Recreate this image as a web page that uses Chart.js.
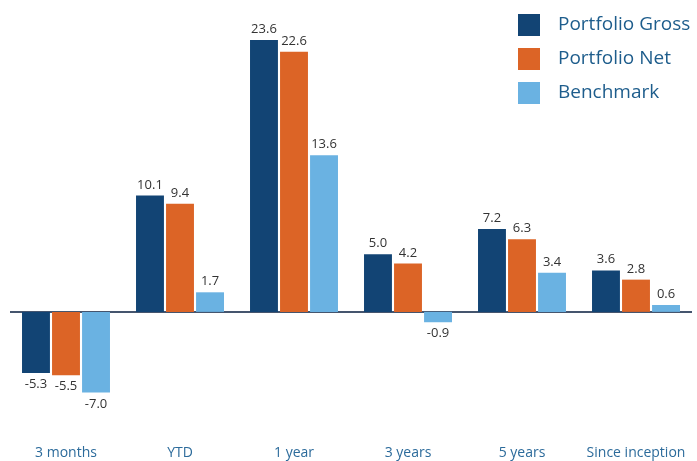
<!DOCTYPE html>
<html>
<head>
<meta charset="utf-8">
<script src="https://cdn.jsdelivr.net/npm/chart.js@4"></script>
<style>
  html, body { margin: 0; padding: 0; background: #fff; }
  #wrap { width: 697px; height: 461px; }
</style>
</head>
<body>
<div id="wrap"><canvas id="perfChart"></canvas></div>
<script>
// categories + series
const periods = ['3 months', 'YTD', '1 year', '3 years', '5 years', 'Since inception'];
const grossVals = [-5.3, 10.1, 23.6, 5.0, 7.2, 3.6];
const netVals = [-5.5, 9.4, 22.6, 4.2, 6.3, 2.8];
const benchVals = [-7.0, 1.7, 13.6, -0.9, 3.4, 0.6];
const seriesNames = ['Portfolio Gross', 'Portfolio Net', 'Benchmark'];

// zero line, value labels, category labels, legend in the top right
const extras = {
  id: 'extras',
  beforeDatasetsDraw(chart) {
    const c = chart.ctx, a = chart.chartArea, y0 = chart.scales.y.getPixelForValue(0);
    c.save();
    c.strokeStyle = '#45556e';
    c.lineWidth = 2;
    c.beginPath();
    c.moveTo(a.left + 1, y0);
    c.lineTo(a.right - 1, y0);
    c.stroke();
    c.restore();
  },
  afterDatasetsDraw(chart) {
    const c = chart.ctx, xs = chart.scales.x;
    c.save();
    c.font = '13px "Open Sans"';
    c.fillStyle = '#333';
    c.textAlign = 'center';
    chart.data.datasets.forEach((ds, i) => {
      chart.getDatasetMeta(i).data.forEach((bar, j) => {
        const v = ds.data[j];
        if (v >= 0) {
          c.textBaseline = 'alphabetic';
          c.fillText(v.toFixed(1), bar.x, bar.y - 7);
        } else {
          c.textBaseline = 'top';
          c.fillText(v.toFixed(1), bar.x, bar.y + 5);
        }
      });
    });
    // category labels (drawn here so tick padding doesn't squeeze the area)
    c.font = '14px "Open Sans"';
    c.fillStyle = '#2c6b9b';
    c.textBaseline = 'middle';
    chart.data.labels.forEach((lab, j) => {
      c.fillText(lab, xs.getPixelForValue(j), 453);
    });
    // legend
    c.textAlign = 'left';
    c.font = '19px "Open Sans"';
    chart.data.datasets.forEach((ds, i) => {
      const y = 25 + i * 34;
      c.fillStyle = ds.backgroundColor;
      c.fillRect(518, y - 11, 22, 22);
      c.fillStyle = '#1e5d8c';
      c.fillText(ds.label, 558, y);
    });
    c.restore();
  }
};

const ctx = document.getElementById('perfChart');
const perfChart = new Chart(ctx, {
  type: 'bar',
  data: {
    labels: periods,
    datasets: [
      { label: seriesNames[0], data: grossVals, backgroundColor: '#124474' }, // dark blue
      { label: seriesNames[1], data: netVals, backgroundColor: '#dc6426' },   // orange
      { label: seriesNames[2], data: benchVals, backgroundColor: '#6ab2e2' }  // light blue
    ]
  },
  options: {
    responsive: true,
    maintainAspectRatio: false,
    animation: false,
    categoryPercentage: 0.79,
    barPercentage: 0.93,
    layout: { padding: { left: 9, right: 4, top: 24, bottom: 57 } },
    plugins: {
      legend: { display: false },
      tooltip: { enabled: false }
    },
    scales: {
      x: { display: false },
      y: {
        display: false,
        min: -8,
        max: 25
      }
    }
  },
  plugins: [extras]
});
</script>
</body>
</html>
